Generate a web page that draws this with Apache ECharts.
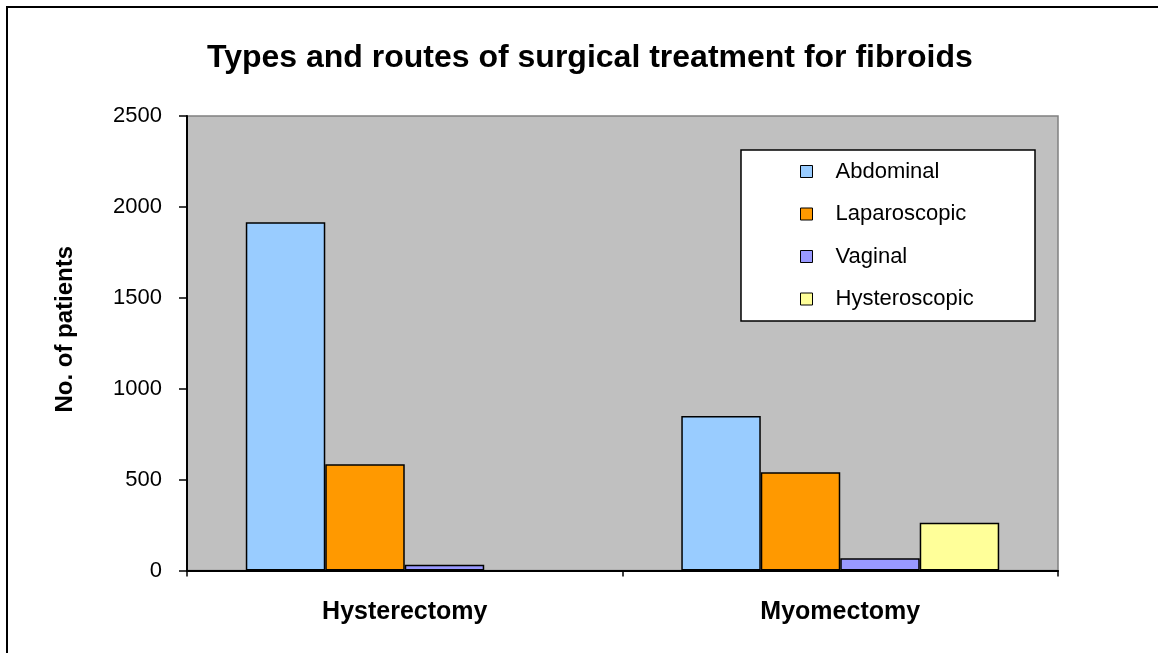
<!DOCTYPE html>
<html>
<head>
<meta charset="utf-8">
<script src="https://cdn.jsdelivr.net/npm/echarts@6/dist/echarts.min.js"></script>
<style>
  html, body { margin: 0; padding: 0; background: #ffffff; }
  #chart { width: 1158px; height: 653px; }
</style>
</head>
<body>
<div id="chart"></div>
<script>
/* chart data */
const categories = ["Hysterectomy", "Myomectomy"];
const routes = ["Abdominal", "Laparoscopic", "Vaginal", "Hysteroscopic"];
const abdominal = [1915, 850];
const laparoscopic = [584, 540];
const vaginal = [32, 67];
const hysteroscopic = [null, 263];
const yTicks = [0, 500, 1000, 1500, 2000, 2500];

const colors = ["#99ccff", "#ff9900", "#9999ff", "#ffff99"];
const seriesData = [abdominal, laparoscopic, vaginal, hysteroscopic];

/* chart render */
let myChart = echarts.init(document.getElementById("chart"));
let option = {
  backgroundColor: "#ffffff",
  animation: false,
  textStyle: { fontFamily: "Liberation Sans, Arial, sans-serif", color: "#000" },
  title: {
    text: "Types and routes of surgical treatment for fibroids",
    left: 202,
    top: 37,
    textStyle: { fontSize: 32, fontWeight: "bold", color: "#000" },
  },
  graphic: [
    {
      //outer frame, right and bottom run off the picture
      type: "rect",
      shape: { x: 7, y: 7, width: 1160, height: 660 },
      style: { fill: null, stroke: "#000", lineWidth: 2 },
      z: -1,
    },
    {
      //legend box
      type: "rect",
      shape: { x: 741, y: 150, width: 294, height: 171 },
      style: { fill: "#ffffff", stroke: "#000", lineWidth: 1.5 },
      z: 5,
    },
  ],
  legend: {
    orient: "vertical",
    left: 800,
    top: 160.5,
    padding: 0,
    itemGap: 20.5,
    itemWidth: 12,
    itemHeight: 12,
    icon: "rect",
    z: 10,
    data: routes,
    itemStyle: { borderColor: "#000", borderWidth: 1 },
    textStyle: { fontSize: 22, lineHeight: 22, color: "#000", padding: [0, 0, 0, 18] },
  },
  grid: {
    left: 187,
    top: 116,
    width: 871,
    height: 454.5,
    show: true,
    backgroundColor: "#c0c0c0",
    borderColor: "#808080",
    borderWidth: 1.5,
  },
  xAxis: {
    type: "category",
    data: categories,
    axisLine: { lineStyle: { color: "#000", width: 2 } },
    axisTick: { show: true, length: 6, lineStyle: { color: "#000", width: 1.5 } },
    axisLabel: { fontSize: 25, fontWeight: "bold", color: "#000", margin: 29 },
  },
  yAxis: {
    type: "value",
    min: yTicks[0],
    max: yTicks[yTicks.length - 1],
    interval: 500,
    name: "No. of patients",
    nameLocation: "middle",
    nameGap: 110,
    nameRotate: 90,
    nameTextStyle: { fontSize: 24, fontWeight: "bold", color: "#000", padding: [0, 0, 0, 28] },
    splitLine: { show: false },
    axisLine: { show: true, lineStyle: { color: "#000", width: 2 } },
    axisTick: { show: true, length: 8, lineStyle: { color: "#000", width: 1.5 } },
    axisLabel: {
      fontSize: 22,
      color: "#000",
      margin: 25,
      formatter: function (v) {
        return String(v); //no thousand separator
      },
    },
  },
  series: routes.map(function (name, i) {
    return {
      name: name,
      type: "bar",
      data: seriesData[i],
      barGap: "0%",
      barCategoryGap: "27%",
      itemStyle: { color: colors[i], borderColor: "#000", borderWidth: 1.5 },
    };
  }),
};
myChart.setOption(option);
</script>
</body>
</html>
